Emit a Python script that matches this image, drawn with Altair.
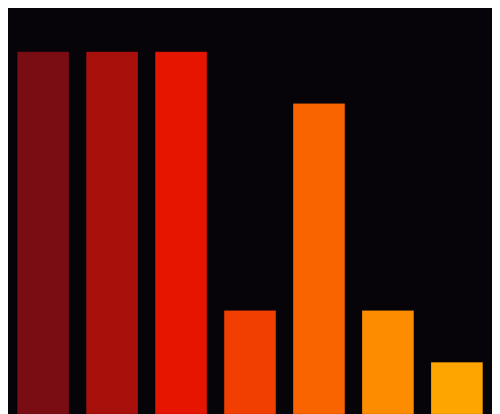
import altair as alt
import pandas as pd

categories = ["A", "B", "C", "D", "E", "F", "G"]
values = [7, 7, 7, 2, 6, 2, 1]
colors = ["#7a0d13", "#a8110b", "#e61500", "#f03f00", "#fa6400", "#fe8c00", "#ffa500"]

df = pd.DataFrame({"cat": categories, "val": values, "color": colors})

chart = alt.Chart(df).mark_bar(
    strokeWidth=1, stroke="#000000", strokeOpacity=0.12
).encode(
    x=alt.X("cat:N", sort=categories, axis=None,
            scale=alt.Scale(paddingInner=0.25, paddingOuter=0.25)),
    y=alt.Y("val:Q", axis=None, scale=alt.Scale(domain=[0, 8], nice=False)),
    color=alt.Color("color:N", scale=None, legend=None),
).properties(
    width=500, height=414, background="#060408",
    padding={"left": -8, "top": -8, "right": -8, "bottom": 0},
    autosize=alt.AutoSizeParams(type="none"),
).configure_view(strokeWidth=0)

chart.save("out.html", embed_options={"renderer": "svg", "actions": False})
